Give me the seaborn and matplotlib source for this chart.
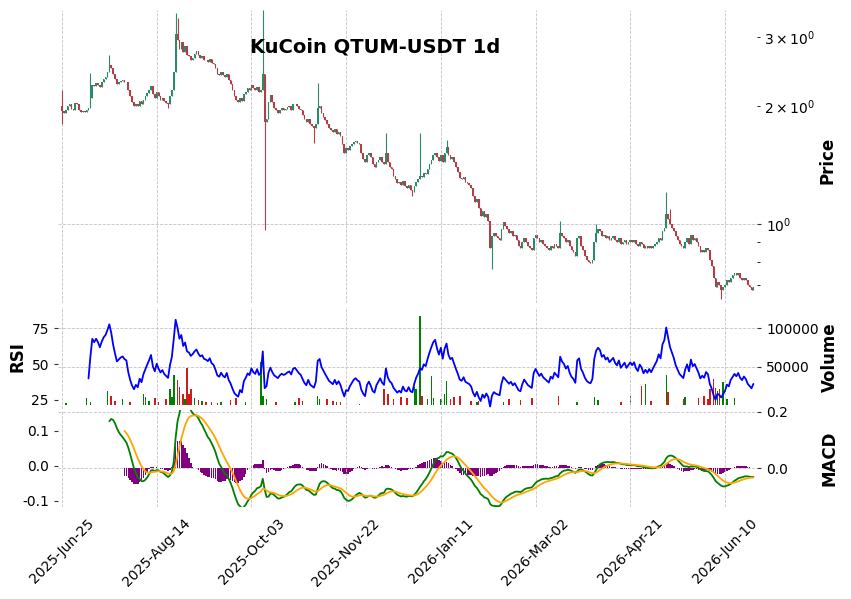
import numpy as np
import pandas as pd
import matplotlib
matplotlib.use("Agg")
import matplotlib.pyplot as plt
import seaborn as sns

# daily candles, KuCoin QTUM-USDT
start_date = "2025-06-25"
first_open = 2.00

closes = [
    1.94, 1.92, 1.96, 2.00, 2.02, 1.97, 1.95, 2.04, 2.03, 1.96,
    1.93, 1.94, 1.93, 1.96, 1.98, 2.10, 2.27, 2.25, 2.29, 2.27,
    2.24, 2.30, 2.35, 2.38, 2.45, 2.55, 2.50, 2.42, 2.35, 2.28,
    2.30, 2.32, 2.33, 2.31, 2.30, 2.20, 2.12, 2.05, 2.00, 2.03,
    2.00, 2.06, 2.02, 2.08, 2.12, 2.16, 2.20, 2.25, 2.15, 2.10,
    2.17, 2.12, 2.08, 2.10, 2.06, 2.04, 2.02, 2.12, 2.20, 2.45,
    3.05, 2.95, 2.80, 2.92, 2.75, 2.85, 2.70, 2.68, 2.62, 2.66,
    2.72, 2.76, 2.70, 2.66, 2.68, 2.63, 2.62, 2.60, 2.64, 2.58,
    2.56, 2.50, 2.42, 2.40, 2.44, 2.40, 2.38, 2.42, 2.33, 2.28,
    2.20, 2.12, 2.08, 2.05, 2.10, 2.06, 2.15, 2.18, 2.22, 2.20,
    2.26, 2.22, 2.20, 2.24, 2.18, 2.20, 2.42, 1.82, 1.85, 2.05,
    2.14, 2.05, 1.98, 1.95, 1.92, 1.96, 1.98, 1.96, 1.97, 1.99,
    2.00, 1.96, 2.02, 2.03, 2.00, 1.97, 1.95, 1.90, 1.85, 1.82,
    1.86, 1.80, 1.78, 1.76, 1.80, 1.98, 2.00, 1.92, 1.88, 1.84,
    1.80, 1.76, 1.74, 1.72, 1.75, 1.70, 1.72, 1.68, 1.60, 1.52,
    1.56, 1.55, 1.58, 1.60, 1.62, 1.63, 1.61, 1.60, 1.52, 1.47,
    1.44, 1.50, 1.52, 1.48, 1.42, 1.40, 1.44, 1.46, 1.48, 1.44,
    1.42, 1.52, 1.44, 1.40, 1.38, 1.33, 1.30, 1.27, 1.28, 1.26,
    1.29, 1.25, 1.24, 1.26, 1.22, 1.21, 1.25, 1.28, 1.30, 1.33,
    1.32, 1.35, 1.34, 1.38, 1.42, 1.46, 1.50, 1.52, 1.48, 1.45,
    1.50, 1.44, 1.52, 1.57, 1.50, 1.47, 1.48, 1.44, 1.40, 1.36,
    1.31, 1.30, 1.32, 1.28, 1.27, 1.26, 1.24, 1.18, 1.14, 1.16,
    1.10, 1.05, 1.08, 1.04, 1.06, 1.02, 0.87, 0.93, 0.95, 0.93,
    0.92, 0.91, 0.97, 1.01, 0.99, 0.97, 0.95, 0.96, 0.93, 0.94,
    0.91, 0.88, 0.87, 0.90, 0.92, 0.90, 0.88, 0.87, 0.86, 0.92,
    0.94, 0.92, 0.90, 0.91, 0.89, 0.88, 0.87, 0.86, 0.88, 0.87,
    0.89, 0.88, 0.87, 0.95, 0.93, 0.92, 0.90, 0.91, 0.88, 0.86,
    0.85, 0.83, 0.92, 0.93, 0.88, 0.86, 0.83, 0.81, 0.80, 0.795,
    0.81, 0.90, 0.95, 0.97, 0.96, 0.93, 0.94, 0.92, 0.93, 0.91,
    0.92, 0.93, 0.91, 0.90, 0.92, 0.89, 0.90, 0.91, 0.89, 0.90,
    0.91, 0.90, 0.91, 0.89, 0.88, 0.90, 0.89, 0.87, 0.88, 0.87,
    0.88, 0.87, 0.88, 0.89, 0.90, 0.92, 0.91, 0.96, 0.98, 1.06,
    1.03, 1.00, 0.98, 0.96, 0.93, 0.91, 0.89, 0.88, 0.87, 0.90,
    0.92, 0.89, 0.94, 0.91, 0.92, 0.90, 0.88, 0.85, 0.86, 0.85,
    0.87, 0.86, 0.81, 0.78, 0.73, 0.69, 0.71, 0.70, 0.68, 0.69,
    0.70, 0.72, 0.71, 0.73, 0.74, 0.75, 0.74, 0.75, 0.73, 0.72,
    0.73, 0.72, 0.70, 0.69, 0.68, 0.69,
]

# long wicks (day index -> price)
wick_highs = {0: 2.20, 15: 2.43, 25: 2.70, 60: 3.45, 61: 3.35, 106: 3.52,
              135: 2.29, 171: 1.71, 189: 1.71, 203: 1.64, 263: 1.02,
              282: 1.00, 319: 1.21, 321: 1.09}
wick_lows = {0: 1.80, 56: 1.98, 107: 0.965, 133: 1.61, 185: 1.18,
             227: 0.77, 348: 0.645}

vol_days = [2, 13, 15, 24, 26, 28, 32, 36, 43, 44, 46, 49, 51, 55, 57, 58, 59,
            61, 62, 64, 65, 66, 67, 68, 70, 72, 74, 76, 79, 82, 84, 89, 92, 97,
            105, 106, 108, 113, 123, 125, 127, 135, 136, 140, 143, 145, 147,
            157, 170, 172, 175, 179, 182, 186, 187, 189, 190, 193, 195, 196,
            200, 202, 203, 205, 207, 210, 216, 219, 220, 226, 233, 236, 242,
            248, 262, 272, 281, 283, 295, 300, 306, 308, 311, 319, 320, 328,
            329, 336, 339, 341, 342, 344, 345, 346, 347, 349, 351, 355]
vol_values = [2600, 8700, 4300, 17800, 11700, 5700, 7800, 3500, 13900, 10900,
              5700, 9600, 3500, 7800, 20900, 10900, 39200, 33000, 23000, 14400,
              7800, 48300, 14400, 20900, 8700, 6000, 5000, 4000, 3500, 3000,
              3500, 6500, 8700, 3500, 55700, 12200, 7800, 3500, 3500, 9100,
              5700, 11300, 7800, 7800, 5000, 4000, 3500, 1700, 20900, 14400,
              7800, 10000, 8700, 23900, 20900, 115700, 12200, 7800, 37400, 9600,
              7800, 14400, 31800, 7800, 10000, 12200, 5700, 3500, 5700, 2200,
              4300, 7800, 6500, 9600, 12200, 3500, 10900, 7000, 3500, 12200,
              24400, 27000, 5700, 39600, 16500, 7800, 10000, 8700, 11300, 7800,
              20900, 33900, 21800, 18300, 20900, 29600, 7800, 8700]

df = pd.DataFrame({"Date": pd.date_range(start_date, periods=len(closes), freq="D"),
                   "Close": closes})
df["Open"] = [first_open] + closes[:-1]
df["High"] = df[["Open", "Close"]].max(axis=1)
df["Low"] = df[["Open", "Close"]].min(axis=1)
for d, v in wick_highs.items():
    df.loc[d, "High"] = v
for d, v in wick_lows.items():
    df.loc[d, "Low"] = v
df["Volume"] = 0.0
df.loc[vol_days, "Volume"] = vol_values
df["x"] = np.arange(len(df))

# indicators: RSI(14, Wilder), MACD(12, 26, 9)
delta = df["Close"].diff()
gain = delta.clip(lower=0).ewm(alpha=1 / 14, adjust=False, min_periods=14).mean()
loss = (-delta.clip(upper=0)).ewm(alpha=1 / 14, adjust=False, min_periods=14).mean()
df["RSI"] = 100 - 100 / (1 + gain / loss)
ema12 = df["Close"].ewm(span=12, adjust=False).mean()
ema26 = df["Close"].ewm(span=26, adjust=False).mean()
macd = (ema12 - ema26)
macd[:25] = np.nan
df["MACD"] = macd
df["Signal"] = macd.ewm(span=9, adjust=False, min_periods=9).mean()
df["Hist"] = df["MACD"] - df["Signal"]

sns.set_style("white")
plt.rcParams["font.family"] = ["DejaVu Sans"]
plt.rcParams["text.color"] = "black"
plt.rcParams["xtick.color"] = "black"
plt.rcParams["ytick.color"] = "black"

up = df["Close"] >= df["Open"]
candle_col = np.where(up, "#2b8a68", "#b23f48")
vol_col = np.where(up, "#008000", "#d11b1b")
grid_kw = dict(ls="--", color="#c4c4c4", lw=0.6)

fig = plt.figure(figsize=(8.51, 5.99), dpi=100)
L, W = 58 / 851, 699 / 851
ax_p = fig.add_axes([L, 0.4942, W, 0.4891])
ax_r = fig.add_axes([L, 0.3172, W, 0.1703], sharex=ax_p)
ax_m = fig.add_axes([L, 0.1536, W, 0.1619], sharex=ax_p)

# price panel
ax_p.vlines(df["x"], df["Low"], df["High"], colors=candle_col, lw=0.8)
body = (df["Close"] - df["Open"]).abs().clip(lower=0.002)
ax_p.bar(df["x"], body, bottom=df[["Open", "Close"]].min(axis=1),
         width=0.85, color=candle_col, linewidth=0)
ax_p.set_yscale("log")
ax_p.set_ylim(0.629, 3.52)
ax_p.yaxis.tick_right()
ax_p.grid(which="major", **grid_kw)
ax_p.tick_params(axis="x", length=0, labelbottom=False)

# rsi + volume panel
ax_v = ax_r.twinx()
ax_v.bar(df["x"], df["Volume"], width=0.8, color=vol_col, linewidth=0)
ax_v.set_ylim(-5200, 127700)
ax_v.set_yticks([50000, 100000])
ax_v.set_yticklabels(["50000", "100000"])
ax_v.grid(axis="y", **grid_kw)
ax_v.set_zorder(ax_r.get_zorder() - 1)
ax_r.patch.set_visible(False)
sns.lineplot(data=df.dropna(subset=["RSI"]), x="x", y="RSI", color="blue",
             lw=1.3, ax=ax_r, legend=False)
ax_r.set_ylim(18.7, 89.9)
ax_r.set_yticks([25, 50, 75])
ax_r.grid(axis="x", **grid_kw)
ax_r.tick_params(axis="x", length=0, labelbottom=False)

# macd panel
ax_h = ax_m.twinx()
ax_h.bar(df["x"], df["Hist"].fillna(0), width=0.8, color="purple", linewidth=0)
ax_h.set_ylim(-0.1365, 0.206)
ax_h.set_yticks([0.0, 0.2])
ax_h.set_yticklabels(["0.0", "0.2"])
ax_h.grid(axis="y", **grid_kw)
ax_h.set_zorder(ax_m.get_zorder() - 1)
ax_m.patch.set_visible(False)
sns.lineplot(data=df.dropna(subset=["MACD"]), x="x", y="MACD", color="green",
             lw=1.3, ax=ax_m, legend=False)
sns.lineplot(data=df.dropna(subset=["Signal"]), x="x", y="Signal", color="orange",
             lw=1.3, ax=ax_m, legend=False)
ax_m.set_ylim(-0.118, 0.159)
ax_m.set_yticks([-0.1, 0.0, 0.1])
ax_m.set_yticklabels(["-0.1", "0.0", "0.1"])
ax_m.grid(axis="x", **grid_kw)

tick_pos = list(range(0, len(df), 50))
ax_m.set_xticks(tick_pos)
ax_m.set_xticklabels([df["Date"][i].strftime("%Y-%b-%d") for i in tick_pos],
                     rotation=45)
ax_m.set_xlim(-2.1, 366.9)

for ax in [ax_p, ax_r, ax_v, ax_m, ax_h]:
    ax.set_xlabel("")
    ax.set_ylabel("")
    for s in ax.spines.values():
        s.set_visible(False)
    ax.tick_params(labelsize=10, length=3, width=0.8, color="#333333")

fig.text(375 / 851, 1 - 47 / 599, "KuCoin QTUM-USDT 1d", ha="center", va="center",
         fontsize=14, fontweight="bold")
fig.text(828 / 851, 1 - 160 / 599, "Price", rotation=90, ha="center", va="center",
         fontsize=12, fontweight="bold")
fig.text(18 / 851, 1 - 357 / 599, "RSI", rotation=90, ha="center", va="center",
         fontsize=12, fontweight="bold")
fig.text(830 / 851, 1 - 357 / 599, "Volume", rotation=90, ha="center", va="center",
         fontsize=12, fontweight="bold")
fig.text(830 / 851, 1 - 458 / 599, "MACD", rotation=90, ha="center", va="center",
         fontsize=12, fontweight="bold")

fig.savefig("out.png", dpi=100)
